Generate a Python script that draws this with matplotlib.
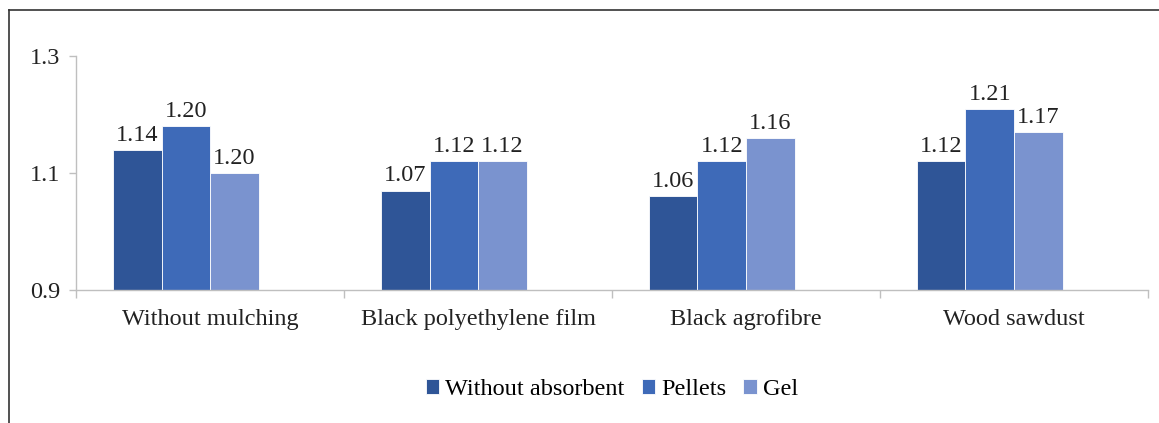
import matplotlib.pyplot as plt
from matplotlib.lines import Line2D
import numpy as np

categories = ['Without mulching', 'Black polyethylene film', 'Black agrofibre', 'Wood sawdust']
series = ['Without absorbent', 'Pellets', 'Gel']
# bar heights as drawn
without_absorbent = [1.14, 1.07, 1.06, 1.12]
pellets = [1.18, 1.12, 1.12, 1.21]
gel = [1.10, 1.12, 1.16, 1.17]
# labels as printed above the bars
labels_without = ['1.14', '1.07', '1.06', '1.12']
labels_pellets = ['1.20', '1.12', '1.12', '1.21']
labels_gel = ['1.20', '1.12', '1.16', '1.17']

colors = ['#2F5597', '#3E6AB8', '#7A93CF']

plt.rcParams['font.family'] = ['Liberation Serif', 'DejaVu Serif']
fs = 17.5

fig = plt.figure(figsize=(11.59, 4.23), dpi=100)
ax = fig.add_axes([0.0656, 0.3144, 0.9249, 0.5532])

x = np.arange(len(categories))
width = 0.181
offset = 0.138
values = [without_absorbent, pellets, gel]
texts = [labels_without, labels_pellets, labels_gel]
for j, (vals, labs) in enumerate(zip(values, texts)):
    left = x - 0.5 + offset + j * width
    ax.bar(left, np.array(vals) - 0.9, width, bottom=0.9, align='edge',
           color=colors[j], edgecolor='white', linewidth=0.6, label=series[j])
    for xi, v, t in zip(left, vals, labs):
        ax.text(xi + width / 2, v + 0.007, t, ha='center', va='bottom',
                fontsize=fs, color='#222222')

ax.set_xlim(-0.5, len(categories) - 0.5)
ax.set_ylim(0.9, 1.3)
ax.set_yticks([0.9, 1.1, 1.3])
ax.set_yticklabels(['0.9', '1.1', '1.3'], fontsize=fs, color='#222222')
ax.set_xticks(x)
ax.set_xticklabels(categories, fontsize=fs, color='#222222')
ax.tick_params(axis='x', length=0, pad=14)
ax.set_xticks(np.arange(-0.5, len(categories)), minor=True)
ax.tick_params(axis='x', which='minor', length=6, color='#BFBFBF', width=1)
ax.tick_params(axis='y', length=5, color='#BFBFBF', width=1, pad=6.5)

for s in ['top', 'right']:
    ax.spines[s].set_visible(False)
for s in ['left', 'bottom']:
    ax.spines[s].set_color('#BFBFBF')
    ax.spines[s].set_linewidth(1)

ax.legend(loc='center', bbox_to_anchor=(0.5, -0.425), ncol=3, frameon=False,
          fontsize=fs, handlelength=0.55, handleheight=0.55, handletextpad=0.25,
          columnspacing=0.7)

# chart frame (top and left edges visible)
fig.add_artist(Line2D([9 / 1159, 9 / 1159], [0, 1 - 10 / 423], color='#333333', lw=1.2))
fig.add_artist(Line2D([9 / 1159, 1], [1 - 10 / 423, 1 - 10 / 423], color='#333333', lw=1.2))

fig.savefig('out.png', dpi=100)
